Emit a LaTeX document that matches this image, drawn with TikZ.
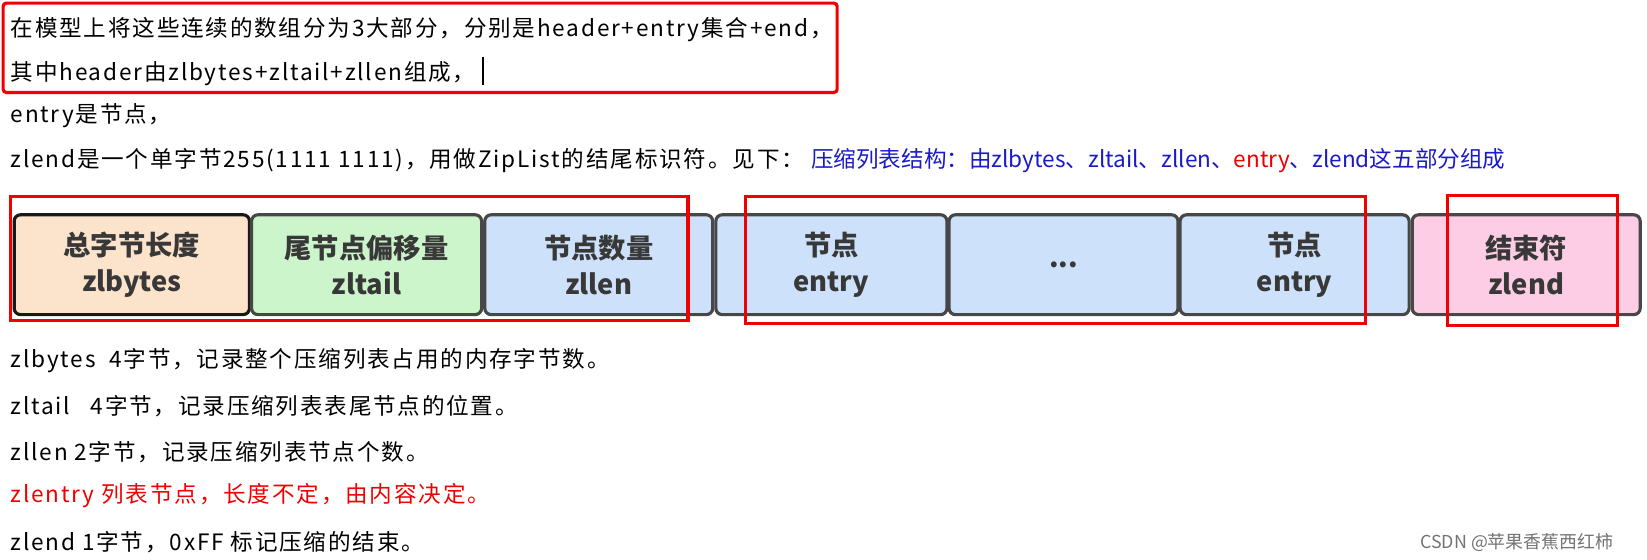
\documentclass[tikz,border=0pt]{standalone}
\usepackage{fontspec}
\setmainfont{Noto Sans CJK SC}
\newfontfamily\spaced[LetterSpace=8]{Noto Sans CJK SC}
\definecolor{peach}{HTML}{FCE3CB}
\definecolor{mint}{HTML}{CDF5CB}
\definecolor{sky}{HTML}{CDE1FA}
\definecolor{rose}{HTML}{FCCDE4}
\definecolor{inkblue}{HTML}{1A1AC8}
\definecolor{hl}{HTML}{F00000}
\begin{document}
\begin{tikzpicture}[x=1pt,y=-1pt,
  txt/.style={anchor=west,font=\spaced\fontsize{21.5}{24}\selectfont,inner sep=0},
  cell/.style={draw=black!72,line width=3pt,rounded corners=6pt,minimum height=95pt,align=center,font=\bfseries\fontsize{26}{34}\selectfont,text=black!78,anchor=north west},
  redbox/.style={draw=hl,line width=3pt}]
\useasboundingbox (0,0) rectangle (1568,533);
\draw[redbox,rounded corners=3pt] (3,3) rectangle (797,88);
\node[txt] (l1) at (10,28) {在模型上将这些连续的数组分为3大部分，分别是header+entry集合+end，};
\node[txt] (l2) at (10,68) {其中header由zlbytes+zltail+zllen组成，\ \rule[-4pt]{1.2pt}{26pt}};
\node[txt] (l3) at (10,110) {entry是节点，};
\node[txt] (l4) at (10,153) {zlend是一个单字节255(1111 1111)，用做ZipList的结尾标识符。见下：};
\node[txt,text=inkblue,font=\fontsize{21.5}{24}\selectfont] (l5) at (772,153) {压缩列表结构：由zlbytes、zltail、zllen、\textcolor{hl}{entry}、zlend这五部分组成};
\node[cell,fill=peach,draw=black!90,minimum width=224pt] (a) at (12,203) {总字节长度\\zlbytes};
\node[cell,fill=mint,minimum width=219pt] (b) at (238,203) {尾节点偏移量\\zltail};
\node[cell,fill=sky,minimum width=217pt] (c) at (460,203) {节点数量\\zllen};
\node[cell,fill=sky,minimum width=220pt] (d) at (680,203) {节点\\entry};
\node[cell,fill=sky,minimum width=218pt] (e) at (902,203) {...};
\node[cell,fill=sky,minimum width=218pt] (f) at (1122,203) {节点\\entry};
\node[cell,fill=rose,minimum width=217pt] (g) at (1343,203) {结束符\\zlend};
\draw[redbox] (10,187) rectangle (655,305);
\draw[redbox] (710,187) rectangle (1300,308);
\draw[redbox] (1378,186) rectangle (1540,310);
\node[txt] (m1) at (10,343) {zlbytes\ \ 4字节，记录整个压缩列表占用的内存字节数。};
\node[txt] (m2) at (10,387) {zltail\ \ \ 4字节，记录压缩列表表尾节点的位置。};
\node[txt] (m3) at (10,430) {zllen 2字节，记录压缩列表节点个数。};
\node[txt,text=hl] (m4) at (10,472) {zlentry\ 列表节点，长度不定，由内容决定。};
\node[txt] (m5) at (10,516) {zlend 1字节，0xFF 标记压缩的结束。};
\node[txt,text=black!55,font=\fontsize{17}{20}\selectfont] (w) at (1352,516) {CSDN @苹果香蕉西红柿};
\end{tikzpicture}
\end{document}
